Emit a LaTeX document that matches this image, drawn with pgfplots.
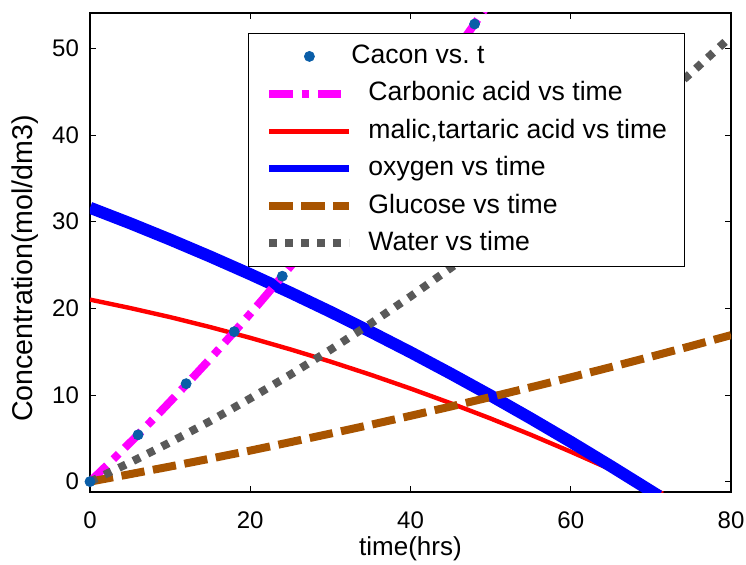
\documentclass[border=0pt]{standalone}
\usepackage{fontspec}
\setmainfont{Liberation Sans}
\usepackage{pgfplots}
\pgfplotsset{compat=1.18}
\definecolor{dotblue}{rgb}{0.04,0.37,0.66}
\definecolor{brownc}{rgb}{0.66,0.33,0.0}
\definecolor{grayc}{rgb}{0.35,0.35,0.35}
\definecolor{magc}{rgb}{1,0,1}
\definecolor{redc}{rgb}{1,0,0}
\definecolor{bluec}{rgb}{0,0,1}
\pgfplotsset{
  linelegend/.style={legend image code/.code={\draw[##1] (0pt,0pt) -- (40pt,0pt);}},
  dotlegend/.style={legend image code/.code={\draw[mark repeat=2,mark phase=2,##1] plot coordinates {(0pt,0pt) (20pt,0pt) (40pt,0pt)};}},
}
\begin{document}
\fontsize{13}{15.6}\selectfont
\begin{tikzpicture}
\begin{axis}[
  scale only axis, width=320.5pt, height=239.5pt,
  xmin=0, xmax=80, ymin=-1.2, ymax=54.07,
  xtick={0,20,40,60,80}, ytick={0,10,20,30,40,50},
  tick align=inside, tick pos=both, major tick length=2.8pt,
  every tick/.style={black, line width=0.4pt},
  axis line style={line width=0.6pt},
  /pgf/number format/assume math mode=true,
  tick label style={font=\fontsize{12}{14}\selectfont},
  xticklabel style={yshift=-5.5pt},
  yticklabel style={xshift=-1pt},
  xlabel={time(hrs)}, ylabel={Concentration(mol/dm3)},
  xlabel style={at={(axis description cs:0.5,-0.119)}, anchor=center},
  ylabel style={at={(axis description cs:-0.1014,0.4666)}, anchor=center,
    font=\fontsize{14.3}{17}\selectfont},
  legend cell align=left,
  legend style={at={(axis description cs:0.2465,0.9582)}, anchor=north west,
    draw=black, fill=white, inner xsep=8.5pt, inner ysep=5pt,
    column sep=7.5pt, row sep=5.7pt,
    nodes={inner sep=0pt, text height=10pt, text depth=3pt},
    font=\fontsize{13.3}{16}\selectfont},
  linelegend,
]
% legend entries
\addlegendimage{only marks, mark=*, mark size=2.5pt, dotblue, dotlegend}
\addlegendentry{\hspace*{-8.5pt}Cacon vs.\ t}
\addlegendimage{magc, line width=4pt, dash pattern=on 11.7pt off 4.5pt on 3.8pt off 4.2pt}
\addlegendentry{Carbonic acid vs time}
\addlegendimage{redc, line width=2.3pt}
\addlegendentry{malic,tartaric acid vs time}
\addlegendimage{bluec, line width=3.7pt}
\addlegendentry{oxygen vs time}
\addlegendimage{brownc, line width=4pt, dash pattern=on 11.7pt off 4.3pt}
\addlegendentry{Glucose vs time}
\addlegendimage{grayc, line width=4pt, dash pattern=on 3.8pt off 4.2pt}
\addlegendentry{Water vs time}

% malic, tartaric acid
\addplot[redc, line width=2.2pt, forget plot] coordinates {
(0,21.00) (5,20.03) (10,18.98) (15,17.83) (20,16.59) (25,15.26) (30,13.85)
(35,12.34) (40,10.74) (45,9.05) (50,7.28) (55,5.41) (60,3.45) (65,1.40)
(70,-0.74) (71.5,-1.39)};
% oxygen
\addplot[bluec, line width=6pt, forget plot] coordinates {
(0,31.60) (5,29.81) (10,27.93) (15,25.97) (20,23.93) (25,21.81) (30,19.60)
(35,17.30) (40,14.93) (45,12.47) (50,9.93) (55,7.30) (60,4.59) (65,1.79)
(70,-1.08) (71,-1.66)};
% carbonic acid
\addplot[magc, line width=4pt, dash pattern=on 11.7pt off 4.5pt on 3.8pt off 4.2pt, forget plot] coordinates {
(0,0) (3,2.67) (6,5.42) (9,8.26) (12,11.18) (15,14.18) (18,17.27) (21,20.44)
(24,23.70) (27,27.04) (30,30.47) (33,33.98) (36,37.58) (39,41.26) (42,45.02)
(45,48.87) (48,52.81) (51,56.82)};
% glucose
\addplot[brownc, line width=4pt, dash pattern=on 11.7pt off 4.3pt, forget plot] coordinates {
(0,0) (5,0.86) (10,1.74) (15,2.65) (20,3.58) (25,4.55) (30,5.54) (35,6.55)
(40,7.59) (45,8.66) (50,9.76) (55,10.88) (60,12.03) (65,13.21) (70,14.41)
(75,15.64) (80,16.90)};
% water
\addplot[grayc, line width=4pt, dash pattern=on 3.8pt off 4.2pt, forget plot] coordinates {
(0,0) (5,2.20) (10,4.53) (15,6.98) (20,9.60) (25,12.34) (30,15.21) (35,18.22)
(40,21.36) (45,24.64) (50,28.05) (55,31.60) (60,35.28) (65,39.10) (70,43.05)
(75,47.14) (80,51.36)};
% Cacon points
\addplot[only marks, mark=*, mark size=2.5pt, dotblue, forget plot] coordinates {
(0,0) (6,5.4) (12,11.3) (18,17.3) (24,23.7) (30,30.5) (36,37.6) (42,45.0) (48,52.8)};
\end{axis}
\pgfresetboundingbox
\path[use as bounding box] ([xshift=-45pt,yshift=-36pt]current axis.south west) rectangle ([xshift=7.5pt,yshift=6.5pt]current axis.north east);
\end{tikzpicture}
\end{document}
